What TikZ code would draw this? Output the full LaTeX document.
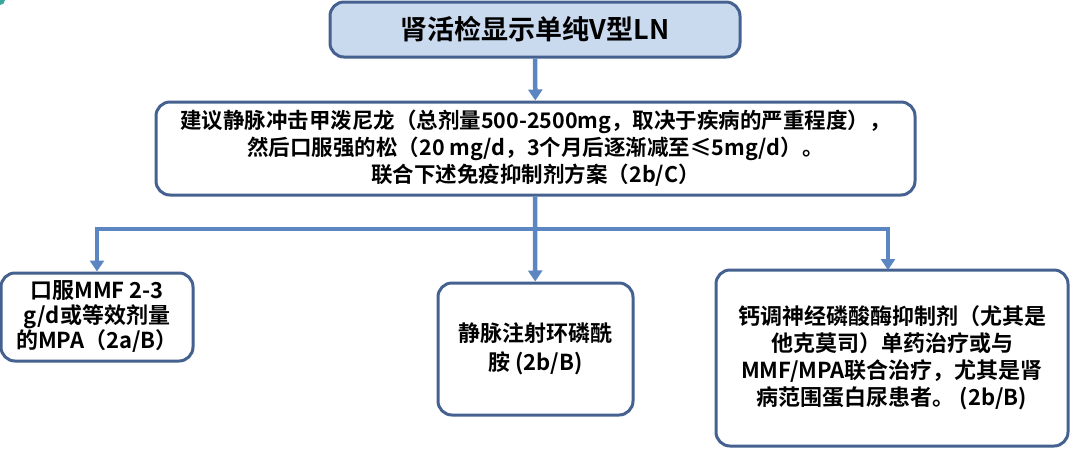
\documentclass[tikz,border=0pt]{standalone}
\usepackage{fontspec}
\setmainfont{Noto Sans CJK SC}[BoldFont={Noto Sans CJK SC Bold}]
\usepackage{xcolor}
\usetikzlibrary{arrows.meta}
\definecolor{boxline}{HTML}{44618F}
\definecolor{boxfill}{HTML}{C9D9EE}
\definecolor{linkblue}{HTML}{5B86C2}
\definecolor{cornerteal}{HTML}{3AA79A}

\begin{document}
\begin{tikzpicture}[x=1pt,y=-1pt,->,>={Triangle[length=11pt,width=14pt]},
    main box/.style={draw=boxline,line width=3pt,rounded corners=14pt,fill=white,align=center,inner sep=0pt},
    link/.style={draw=linkblue,line width=4.5pt}]
    \useasboundingbox (0,0) rectangle (1080,459);
    \fill[cornerteal] (0,0) circle (5);

    \node[main box,fill=boxfill,minimum width=410pt,minimum height=55pt,font=\bfseries\fontsize{27}{30}\selectfont] (top) at (535,29.5) {肾活检显示单纯V型LN};
    \node[main box,minimum width=759pt,minimum height=93pt,font=\bfseries\fontsize{21.5}{27}\selectfont] (induce) at (535.5,148.5) {建议静脉冲击甲泼尼龙（总剂量500-2500mg，取决于疾病的严重程度），\\然后口服强的松（20 mg/d，3个月后逐渐减至≤5mg/d）。\\联合下述免疫抑制剂方案（2b/C）};
    \node[main box,minimum width=192pt,minimum height=88pt,font=\bfseries\fontsize{22}{25}\selectfont] (mmf) at (97,317) {口服MMF 2-3\\g/d或等效剂量\\的MPA（2a/B）};
    \node[main box,minimum width=195pt,minimum height=132pt,font=\bfseries\fontsize{22}{29}\selectfont] (cyc) at (535.5,349) {静脉注射环磷酰\\胺 (2b/B)};
    \node[main box,minimum width=352pt,minimum height=176pt,font=\bfseries\fontsize{22}{27}\selectfont] (cni) at (892,358) {钙调神经磷酸酶抑制剂（尤其是\\他克莫司）单药治疗或与\\MMF/MPA联合治疗，尤其是肾\\病范围蛋白尿患者。 (2b/B)};

    \coordinate (split) at (535,229);
    \path[link] (top) -- (induce);
    \path[link,-] (induce) -- (split);
    \path[link] (split) -| (mmf);
    \path[link] (split) -- (cyc);
    \path[link] (split) -| (888,270);
\end{tikzpicture}
\end{document}
